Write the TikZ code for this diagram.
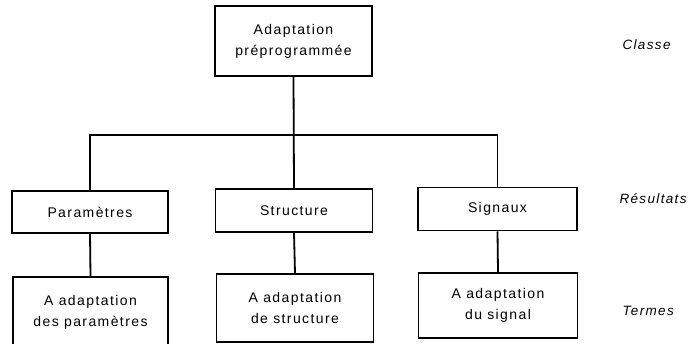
\documentclass[tikz,border=0pt]{standalone}
\usepackage{fontspec}
\setmainfont{Liberation Sans}
\newfontfamily\boxfont[LetterSpace=10]{Liberation Sans}
\begin{document}
\begin{tikzpicture}[x=1pt,y=-1pt,
  box/.style={draw,line width=1.8pt,font=\boxfont\fontsize{14}{21}\selectfont,align=center,inner sep=0pt},
  level/.style={font=\boxfont\fontsize{13.5}{16}\selectfont\itshape,anchor=west},
  link/.style={line width=1.8pt}]
\useasboundingbox (0,0) rectangle (698,343);
% top class
\node[box,minimum width=157pt,minimum height=70pt] (top) at (293.5,41) {Adaptation\\préprogrammée};
% results row
\node[box,minimum width=156pt,minimum height=42pt] (par) at (90,212) {Paramètres};
\node[box,minimum width=157pt,minimum height=43pt] (str) at (294,210.5) {Structure};
\node[box,minimum width=159pt,minimum height=43pt] (sig) at (497.5,209) {Signaux};
% terms row
\node[box,minimum width=155pt,minimum height=70pt] (tpar) at (90.5,312) {A adaptation\\des paramètres};
\node[box,minimum width=157pt,minimum height=68pt] (tstr) at (295,308) {A adaptation\\de structure};
\node[box,minimum width=159pt,minimum height=65pt] (tsig) at (498,305.5) {A adaptation\\du signal};
% tree connectors
\coordinate (bus) at (293.5,135);
\draw[link] (top.south) -- (str.north);
\draw[link] (par.north) |- (bus) -| (sig.north);
\draw[link] (par.south) -- (tpar.north);
\draw[link] (str.south) -- (tstr.north);
\draw[link] (sig.south) -- (tsig.north);
% level labels
\node[level] (lclass) at (619,45) {Classe};
\node[level] (lres) at (616,199) {Résultats};
\node[level] (lterm) at (619,311) {Termes};
\end{tikzpicture}
\end{document}
